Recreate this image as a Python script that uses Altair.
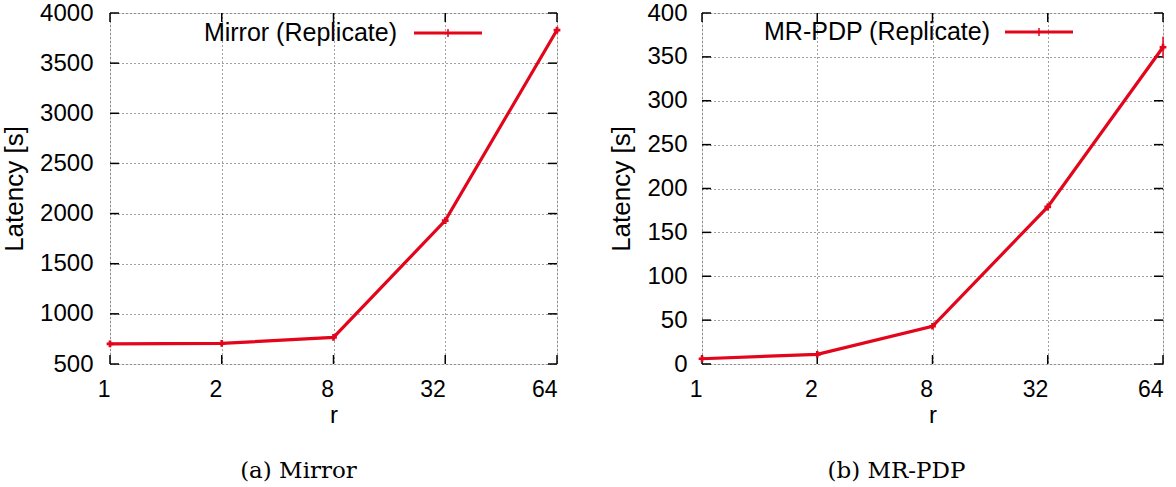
import altair as alt
import pandas as pd

# ---- data ----
r_values = ["1", "2", "8", "32", "64"]
mirror_latency = [700, 705, 765, 1930, 3830]
mirror_lo = [690, 695, 750, 1910, 3810]
mirror_hi = [710, 715, 780, 1950, 3850]
mrpdp_latency = [6, 11, 43, 179, 361]
mrpdp_lo = [5, 10, 41, 175, 349]
mrpdp_hi = [7, 12, 45, 183, 373]
mirror_yticks = [500, 1000, 1500, 2000, 2500, 3000, 3500, 4000]
mrpdp_yticks = [0, 50, 100, 150, 200, 250, 300, 350, 400]

RED = "#e3051b"
H = 351
TICK = 9


def panel(vals, lo, hi, yticks, width, legend_text, caption, leg, cap_dx, label_pad):
    df = pd.DataFrame({"r": r_values, "v": vals, "lo": lo, "hi": hi})
    xenc = alt.X(
        "r:O", sort=r_values,
        scale=alt.Scale(type="point", padding=0),
        axis=alt.Axis(title="r", labelAngle=0, labelFont="Liberation Sans",
                      labelFontSize=23, labelColor="black", labelPadding=25,
                      ticks=False, domain=False, grid=True, gridColor="#444",
                      gridDash=[1, 3], gridWidth=1,
                      titleFont="Liberation Sans", titleFontSize=24,
                      titleFontWeight="normal", titleColor="black",
                      titleY=58, titleBaseline="alphabetic"),
    )
    yenc = alt.Y(
        "v:Q",
        scale=alt.Scale(domain=[yticks[0], yticks[-1]], nice=False, zero=False),
        axis=alt.Axis(title="Latency [s]", values=yticks, format="d",
                      labelFont="Liberation Sans",
                      labelFontSize=24, labelColor="black", labelPadding=label_pad,
                      ticks=False, domain=False, grid=True, gridColor="#444",
                      gridDash=[1, 3], gridWidth=1,
                      titleFont="Liberation Sans", titleFontSize=26,
                      titleFontWeight="normal", titleColor="black", titlePadding=12),
    )
    base = alt.Chart(df)
    line = base.mark_line(color=RED, strokeWidth=3.2).encode(x=xenc, y=yenc)
    err = base.mark_rule(color=RED, strokeWidth=1.5).encode(
        x=alt.X("r:O", sort=r_values), y="lo:Q", y2="hi:Q")
    pts = base.mark_point(shape="cross", filled=True, color=RED, size=45, opacity=1).encode(
        x=alt.X("r:O", sort=r_values), y="v:Q")

    ydf = pd.DataFrame({"v": yticks})
    ytl = alt.Chart(ydf).mark_rule(color="black", strokeWidth=1.5).encode(
        y="v:Q", x=alt.value(0), x2=alt.value(TICK))
    ytr = alt.Chart(ydf).mark_rule(color="black", strokeWidth=1.5).encode(
        y="v:Q", x=alt.value(width - TICK), x2=alt.value(width))
    xdf = pd.DataFrame({"r": r_values})
    xtb = alt.Chart(xdf).mark_rule(color="black", strokeWidth=1.5).encode(
        x=alt.X("r:O", sort=r_values), y=alt.value(H - TICK), y2=alt.value(H))
    xtt = alt.Chart(xdf).mark_rule(color="black", strokeWidth=1.5).encode(
        x=alt.X("r:O", sort=r_values), y=alt.value(0), y2=alt.value(TICK))

    tx, l0, l1, ly = leg
    ldf = pd.DataFrame({"label": [legend_text]})
    ltext = alt.Chart(ldf).mark_text(
        align="right", baseline="middle", font="Liberation Sans", fontSize=25,
        color="black").encode(text="label:N", x=alt.value(tx), y=alt.value(ly))
    lline = alt.Chart(ldf).mark_rule(color=RED, strokeWidth=3.2).encode(
        x=alt.value(l0), x2=alt.value(l1), y=alt.value(ly))
    ltick = alt.Chart(ldf).mark_rule(color=RED, strokeWidth=1.5).encode(
        x=alt.value((l0 + l1) / 2), y=alt.value(ly - 4), y2=alt.value(ly + 4))

    return alt.layer(ytl, ytr, xtb, xtt, line, err, pts, ltext, lline, ltick).properties(
        width=width, height=H,
        title=alt.TitleParams(caption, orient="bottom", font="DejaVu Serif",
                              fontSize=23, fontWeight="normal", color="black",
                              offset=33, dx=cap_dx),
    )


left = panel(mirror_latency, mirror_lo, mirror_hi, mirror_yticks, 447,
             "Mirror (Replicate)", "(a) Mirror", (287, 304, 372, 20), -35, 17)
right = panel(mrpdp_latency, mrpdp_lo, mrpdp_hi, mrpdp_yticks, 461,
              "MR-PDP (Replicate)", "(b) MR-PDP", (288, 303, 371, 19), -36, 15)

chart = alt.hconcat(left, right, spacing=44).properties(
    padding={"left": 1, "top": 0, "right": 0, "bottom": 0}
).configure_view(stroke="black", strokeWidth=2).configure(background="white")

chart.save("out.html", embed_options={"renderer": "svg", "actions": False})
